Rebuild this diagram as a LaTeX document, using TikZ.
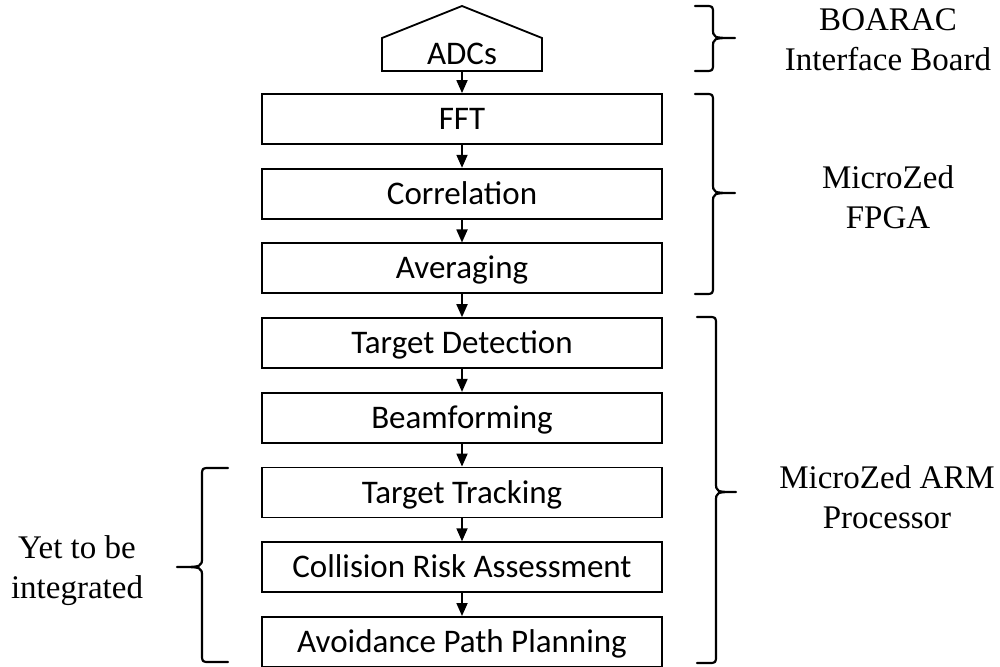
\documentclass[tikz,border=0pt]{standalone}
\usepackage{fontspec}
\setmainfont{Liberation Serif}
\newfontfamily\boxfont{Carlito}
\usetikzlibrary{arrows.meta}
\newcommand{\myrbrace}[6]{%
  \draw[brc] (#1,#4) -- ({#2-8},#4) .. controls (#2,#4) .. (#2,{#4+8})
    -- (#2,{#5-10}) .. controls (#2,#5) .. (#3,#5)
    .. controls (#2,#5) .. (#2,{#5+10})
    -- (#2,{#6-8}) .. controls (#2,#6) .. ({#2-8},#6) -- (#1,#6);}
\newcommand{\mylbrace}[6]{%
  \draw[brc] (#1,#4) -- ({#2+8},#4) .. controls (#2,#4) .. (#2,{#4+8})
    -- (#2,{#5-10}) .. controls (#2,#5) .. (#3,#5)
    .. controls (#2,#5) .. (#2,{#5+10})
    -- (#2,{#6-8}) .. controls (#2,#6) .. ({#2+8},#6) -- (#1,#6);}
\begin{document}
\begin{tikzpicture}[x=0.5pt,y=-0.5pt,
  stage/.style={draw, line width=0.9pt, minimum width=200pt, minimum height=25pt,
    inner sep=0pt, text height=10.6pt, text depth=0pt,
    font=\boxfont\fontsize{16.5}{18}\selectfont},
  lbl/.style={align=center, inner sep=0pt, font=\fontsize{16.5}{20}\selectfont},
  arr/.style={line width=0.9pt, -{Triangle[length=6.5pt,width=5.5pt]}},
  brc/.style={line width=1.1pt, line cap=round, line join=round}]
\useasboundingbox (0,0) rectangle (1000,667);
% ADCs pentagon
\draw[line width=0.9pt] (382,71) -- (382,38) -- (462,6) -- (542,38) -- (542,71) -- cycle;
\node[stage, draw=none, minimum width=0pt, minimum height=0pt] (adc) at (462,54) {ADCs};
\coordinate (adcb) at (462,71);
% stages
\node[stage] (fft)  at (462,119)   {FFT};
\node[stage] (corr) at (462,193.7) {Correlation};
\node[stage] (avg)  at (462,268.4) {Averaging};
\node[stage] (td)   at (462,343.1) {Target Detection};
\node[stage] (bf)   at (462,417.8) {Beamforming};
\node[stage] (tt)   at (462,492.5) {Target Tracking};
\node[stage] (cr)   at (462,567.2) {Collision Risk Assessment};
\node[stage] (ap)   at (462,641.9) {Avoidance Path Planning};
% arrows
\draw[arr] (adcb) -- (fft.north);
\draw[arr] (fft.south) -- (corr.north);
\draw[arr] (corr.south) -- (avg.north);
\draw[arr] (avg.south) -- (td.north);
\draw[arr] (td.south) -- (bf.north);
\draw[arr] (bf.south) -- (tt.north);
\draw[arr] (tt.south) -- (cr.north);
\draw[arr] (cr.south) -- (ap.north);
% braces
\myrbrace{695}{713}{735}{6}{38}{71}
\myrbrace{695}{713}{735}{94}{193}{294}
\myrbrace{697}{716}{736}{317}{492}{663}
\mylbrace{228}{202}{177}{468}{567}{662}
% labels
\node[lbl] (boarac) at (888,40)  {BOARAC\\Interface Board};
\node[lbl] (fpga)   at (888,197) {MicroZed\\FPGA};
\node[lbl] (arm)    at (887,497) {MicroZed ARM\\Processor};
\node[lbl] (yet)    at (77,571)  {Yet to be\\integrated};
\end{tikzpicture}
\end{document}
